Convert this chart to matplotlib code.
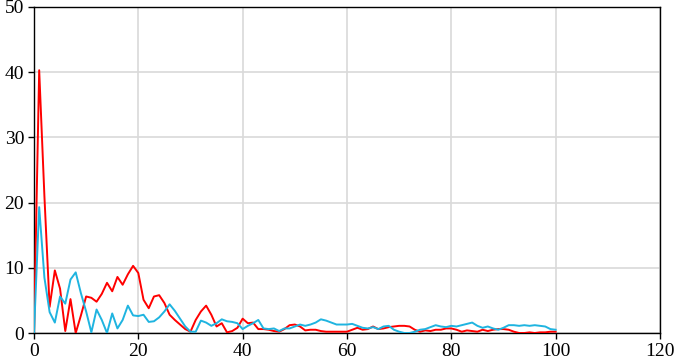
import matplotlib
matplotlib.use('Agg')
import matplotlib.pyplot as plt

x = list(range(0, 101))

red = [0, 40.3, 21.0, 4.0, 9.6, 6.8, 0.3, 5.2, 0.0, 2.7,
       5.6, 5.4, 4.8, 6.0, 7.7, 6.4, 8.6, 7.4, 9.0, 10.3,
       9.2, 5.1, 3.8, 5.6, 5.8, 4.6, 2.8, 2.0, 1.3, 0.6,
       0.2, 2.0, 3.3, 4.2, 2.8, 1.0, 1.5, 0.1, 0.3, 0.8,
       2.2, 1.5, 1.6, 0.6, 0.6, 0.5, 0.3, 0.2, 0.6, 1.2,
       1.3, 1.0, 0.4, 0.5, 0.5, 0.3, 0.2, 0.2, 0.2, 0.2,
       0.2, 0.5, 0.8, 0.5, 0.6, 1.0, 0.6, 0.7, 0.9, 1.0,
       1.1, 1.1, 1.0, 0.5, 0.2, 0.4, 0.3, 0.5, 0.5, 0.7,
       0.7, 0.5, 0.2, 0.4, 0.3, 0.2, 0.5, 0.3, 0.5, 0.6,
       0.6, 0.5, 0.2, 0.0, 0.0, 0.1, 0.0, 0.1, 0.1, 0.2,
       0.2]

blue = [0, 19.3, 8.5, 3.2, 1.6, 5.6, 4.5, 8.2, 9.3, 6.1,
        3.3, 0.1, 3.6, 2.0, 0.0, 3.0, 0.7, 2.0, 4.2, 2.7,
        2.6, 2.8, 1.7, 1.8, 2.4, 3.3, 4.4, 3.4, 2.2, 1.0,
        0.2, 0.2, 1.9, 1.6, 1.1, 1.5, 2.1, 1.8, 1.7, 1.5,
        0.6, 1.1, 1.5, 2.0, 0.7, 0.6, 0.7, 0.3, 0.7, 0.7,
        1.0, 1.3, 1.1, 1.3, 1.6, 2.1, 1.9, 1.6, 1.3, 1.3,
        1.3, 1.4, 1.1, 0.8, 0.7, 0.9, 0.6, 1.0, 1.1, 0.5,
        0.2, 0.0, 0.0, 0.2, 0.5, 0.6, 0.9, 1.2, 1.0, 0.9,
        1.1, 1.0, 1.2, 1.4, 1.6, 1.1, 0.8, 1.0, 0.7, 0.5,
        0.8, 1.2, 1.2, 1.1, 1.2, 1.1, 1.2, 1.1, 1.0, 0.6,
        0.5]

xticks = [0, 20, 40, 60, 80, 100, 120]
yticks = [0, 10, 20, 30, 40, 50]

plt.rcParams['font.family'] = ['Liberation Serif', 'DejaVu Serif']

fig = plt.figure(figsize=(6.74, 3.62), dpi=100)
ax = fig.add_axes([0.0504, 0.0801, 0.9288, 0.9006])

ax.plot(x, red, color='#FF0000', lw=1.4, zorder=3)
ax.plot(x, blue, color='#1FB4E0', lw=1.4, zorder=3)

ax.set_xlim(0, 120)
ax.set_ylim(0, 50)
ax.set_xticks(xticks)
ax.set_yticks(yticks)
ax.grid(True, color='#D9D9D9', lw=1.2)
ax.set_axisbelow(True)
for s in ax.spines.values():
    s.set_color('black')
    s.set_linewidth(1.0)
ax.tick_params(direction='out', length=4, width=1, labelsize=14, colors='black', pad=3)

fig.savefig('out.png', dpi=100)
